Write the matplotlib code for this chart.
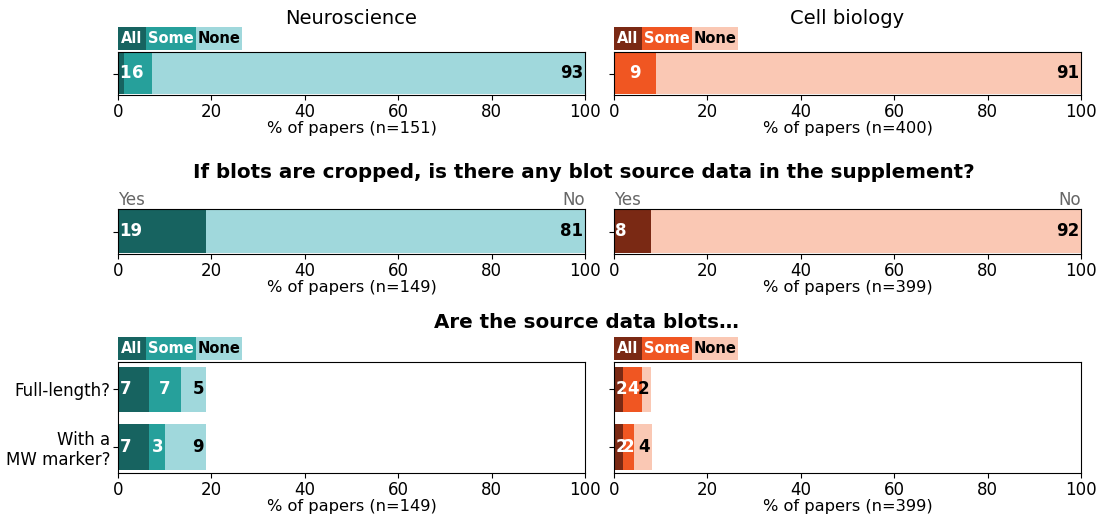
import matplotlib.pyplot as plt
from matplotlib.patches import Rectangle

# --- data (% of papers) ---
fields = ['Neuroscience', 'Cell biology']
n_crop = [151, 400]
n_src = [149, 399]

# all / some / none blots cropped
crop_all = [1.3, 0.0]
crop_some = [6.0, 9.0]
crop_none = [92.7, 91.0]

# supplement has source data (yes / no)
supp_yes = [18.8, 8.0]
supp_no = [81.2, 92.0]

# source data blots: full-length? / with MW marker?
src_questions = ['Full-length?', 'With a\nMW marker?']
src_all = [[6.7, 6.7], [2.0, 2.0]]
src_some = [[6.7, 3.4], [4.0, 2.3]]
src_none = [[5.4, 8.7], [2.0, 3.8]]

palettes = [['#176360', '#26a09b', '#a0d8dc'],
            ['#7a2914', '#f05622', '#fac8b4']]

W, H = 1114, 521
fig = plt.figure(figsize=(W / 100, H / 100), dpi=100)

col_x = [118 / W, 614 / W]
col_w = 467 / W
rows = [(95, 43), (254, 45), (473, 111)]  # bottom px, height px


def make_ax(col, row):
    b, h = rows[row]
    return fig.add_axes([col_x[col], 1 - b / H, col_w, h / H])


def legend_boxes(ax, cols):
    pos = ax.get_position()
    edges = [0, 0.06, 0.167, 0.266]
    names = ['All', 'Some', 'None']
    y0 = pos.y1 + 2 / H
    hh = 23 / H
    for i in range(3):
        x0 = pos.x0 + edges[i] * pos.width
        w = (edges[i + 1] - edges[i]) * pos.width
        fig.add_artist(Rectangle((x0, y0), w, hh, transform=fig.transFigure,
                                 facecolor=cols[i], edgecolor='none'))
        fig.text(x0 + w / 2, y0 + hh / 2, names[i], ha='center', va='center',
                 fontsize=10.5, fontweight='bold',
                 color='black' if i == 2 else 'white')


def stacked(ax, ys, alls, somes, nones, cols, height):
    ax.barh(ys, alls, height=height, color=cols[0])
    ax.barh(ys, somes, left=alls, height=height, color=cols[1])
    lefts2 = [a + s for a, s in zip(alls, somes)]
    ax.barh(ys, nones, left=lefts2, height=height, color=cols[2])
    for y, a, s, nn in zip(ys, alls, somes, nones):
        if round(a) > 0:
            ax.text(0.3, y, str(round(a)), ha='left', va='center',
                    color='white', fontsize=12, fontweight='bold')
        if round(s) > 0:
            ax.text(a + s / 2, y, str(round(s)), ha='center', va='center',
                    color='white', fontsize=12, fontweight='bold')
        if round(nn) > 0:
            ax.text(a + s + nn - 0.4, y, str(round(nn)), ha='right', va='center',
                    color='black', fontsize=12, fontweight='bold')


def style(ax, n):
    ax.set_xlim(0, 100)
    ax.set_xticks([0, 20, 40, 60, 80, 100])
    ax.tick_params(labelsize=12, pad=2)
    ax.set_xlabel('% of papers (n={})'.format(n), fontsize=11.7, labelpad=0)


for c in range(2):
    cols = palettes[c]

    # row 1: cropped?
    ax = make_ax(c, 0)
    stacked(ax, [0], [crop_all[c]], [crop_some[c]], [crop_none[c]], cols, 0.95)
    ax.set_ylim(-0.5, 0.5)
    ax.set_yticks([0])
    ax.set_yticklabels([''])
    style(ax, n_crop[c])
    legend_boxes(ax, cols)
    pos = ax.get_position()
    fig.text(pos.x0 + pos.width / 2, 1 - 18 / H, fields[c], ha='center',
             va='center', fontsize=14)

    # row 2: supplement yes/no
    ax = make_ax(c, 1)
    ax.barh([0], [supp_yes[c]], height=0.95, color=cols[0])
    ax.barh([0], [supp_no[c]], left=[supp_yes[c]], height=0.95, color=cols[2])
    ax.text(0.3, 0, str(round(supp_yes[c])), ha='left', va='center',
            color='white', fontsize=12, fontweight='bold')
    ax.text(99.6, 0, str(round(supp_no[c])), ha='right', va='center',
            color='black', fontsize=12, fontweight='bold')
    ax.set_ylim(-0.5, 0.5)
    ax.set_yticks([0])
    ax.set_yticklabels([''])
    style(ax, n_src[c])
    ax.text(0, 1.01, 'Yes', transform=ax.transAxes, ha='left', va='bottom',
            color='#666666', fontsize=12)
    ax.text(1, 1.01, 'No', transform=ax.transAxes, ha='right', va='bottom',
            color='#666666', fontsize=12)

    # row 3: source data blots
    ax = make_ax(c, 2)
    stacked(ax, [0, 1], src_all[c], src_some[c], src_none[c], cols, 0.8)
    ax.set_ylim(1.46, -0.48)
    ax.set_yticks([0, 1])
    if c == 0:
        ax.set_yticklabels(src_questions, fontsize=12, ha='right',
                           multialignment='right')
    else:
        ax.set_yticklabels(['', ''])
    style(ax, n_src[c])
    legend_boxes(ax, cols)

fig.text(584 / W, 1 - 172 / H,
         'If blots are cropped, is there any blot source data in the supplement?',
         ha='center', va='center', fontsize=14.3, fontweight='bold')
fig.text(586 / W, 1 - 322 / H, 'Are the source data blots\u2026',
         ha='center', va='center', fontsize=14.3, fontweight='bold')

fig.savefig('out.png', dpi=100)
